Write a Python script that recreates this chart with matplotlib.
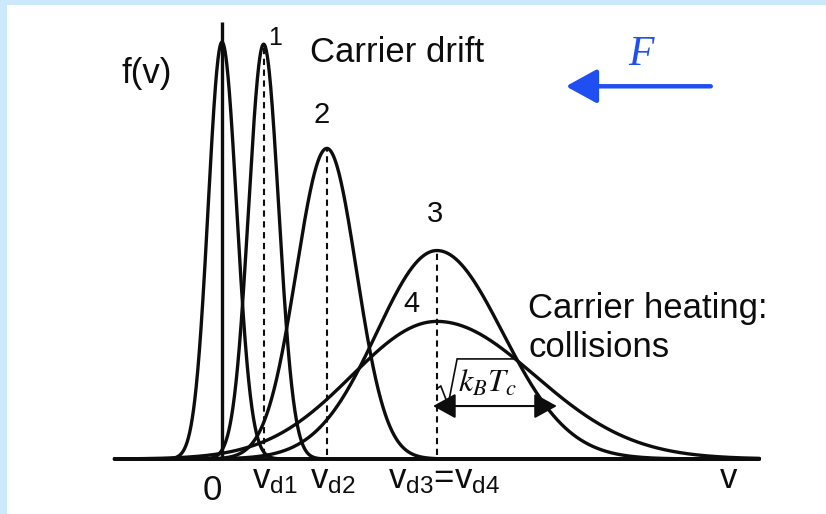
import numpy as np
import matplotlib.pyplot as plt

# drifted / heated distributions f(v), numbered 0..4
drift = [0.0, 0.97, 2.44, 5.0, 5.0]
peak = [1.0, 0.995, 0.745, 0.50, 0.33]
spread_left = [0.32, 0.35, 0.71, 1.40, 1.98]
spread_right = [0.34, 0.35, 0.69, 1.53, 2.28]
curve_labels = ["1", "2", "3", "4"]

tick_labels = ["0", r"$\mathregular{v_{d1}}$", r"$\mathregular{v_{d2}}$",
               r"$\mathregular{v_{d3}}$=$\mathregular{v_{d4}}$", "v"]

INK = "#0d0d0d"
BLUE = "#1f4ff0"

plt.rcParams["font.family"] = ["Liberation Sans", "DejaVu Sans"]
plt.rcParams["mathtext.fontset"] = "custom"
plt.rcParams["mathtext.rm"] = "Liberation Sans"

fig = plt.figure(figsize=(8.26, 5.14), dpi=100)
fig.patch.set_facecolor("#cce9fb")
ax = fig.add_axes([7 / 826, 0, 819 / 826, 509 / 514])
ax.set_facecolor("white")
ax.set_xlim(-5.0, 14.05)
ax.set_ylim(-0.132, 1.089)
for sp in ax.spines.values():
    sp.set_visible(False)
ax.set_xticks([])
ax.set_yticks([])

v = np.linspace(-2.5, 12.5, 2000)
for c, h, sl, sr in zip(drift, peak, spread_left, spread_right):
    s = np.where(v < c, sl, sr)
    ax.plot(v, h * np.exp(-0.5 * ((v - c) / s) ** 2), color=INK, lw=2.4,
            solid_capstyle="round")

# axes of the sketch
ax.plot([-2.5, 12.5], [0, 0], color=INK, lw=2.8, solid_capstyle="butt")
ax.plot([0, 0], [0, 1.048], color=INK, lw=2.4, solid_capstyle="butt")

# drift velocity markers
ax.vlines(drift[1:4], 0.01, peak[1:4], colors=INK, lw=1.5,
          linestyles=(0, (3.0, 2.2)))

# curve numbers
num_pos = [(1.07, 0.993), (2.12, 0.806), (4.77, 0.568), (4.21, 0.353)]
for (x, y), lab in zip(num_pos, curve_labels):
    ax.text(x, y, lab, fontsize=21 if lab != "1" else 18, color=INK,
            va="baseline", ha="left")

ax.text(-2.33, 0.902, "f(v)", fontsize=25, color=INK, va="baseline")
ax.text(2.05, 0.952, "Carrier drift", fontsize=25, color=INK, va="baseline")
ax.text(7.12, 0.338, "Carrier heating:", fontsize=25, color=INK, va="baseline")
ax.text(7.12, 0.245, "collisions", fontsize=25, color=INK, va="baseline")

# tick-like labels under the v axis
tick_x = [-0.44, 0.70, 2.05, 3.86, 11.58]
tick_y = [-0.098, -0.0695, -0.0695, -0.0695, -0.0695]
for x, y, lab in zip(tick_x, tick_y, tick_labels):
    ax.text(x, y, lab, fontsize=25, color=INK, va="baseline", ha="left",
            math_fontfamily="custom")

# applied field
ax.text(9.44, 0.945, "F", fontsize=30, color=BLUE, va="baseline",
        family="Liberation Serif", style="italic")
ax.annotate("", xy=(8.0, 0.894), xytext=(11.37, 0.894),
            arrowprops=dict(arrowstyle="-|>,head_length=1.0,head_width=0.55",
                            mutation_scale=19, color=BLUE, lw=3.2,
                            shrinkA=0, shrinkB=0))

# thermal spread: hand-drawn radical over k_B T_c
rad_v = [5.02, 5.09, 5.26, 5.47, 6.77]
rad_f = [0.170, 0.175, 0.130, 0.240, 0.240]
ax.plot(rad_v, rad_f, color=INK, lw=1.2, solid_joinstyle="miter")
ax.text(5.50, 0.160, r"$k_B T_c$", fontsize=23, color=INK,
        va="baseline", ha="left", math_fontfamily="stix")
ax.annotate("", xy=(4.91, 0.127), xytext=(7.79, 0.127),
            arrowprops=dict(arrowstyle="<|-|>,head_length=1.0,head_width=0.55",
                            mutation_scale=14, color=INK, lw=1.5,
                            shrinkA=0, shrinkB=0))

fig.savefig("out.png", dpi=100, facecolor=fig.get_facecolor())
